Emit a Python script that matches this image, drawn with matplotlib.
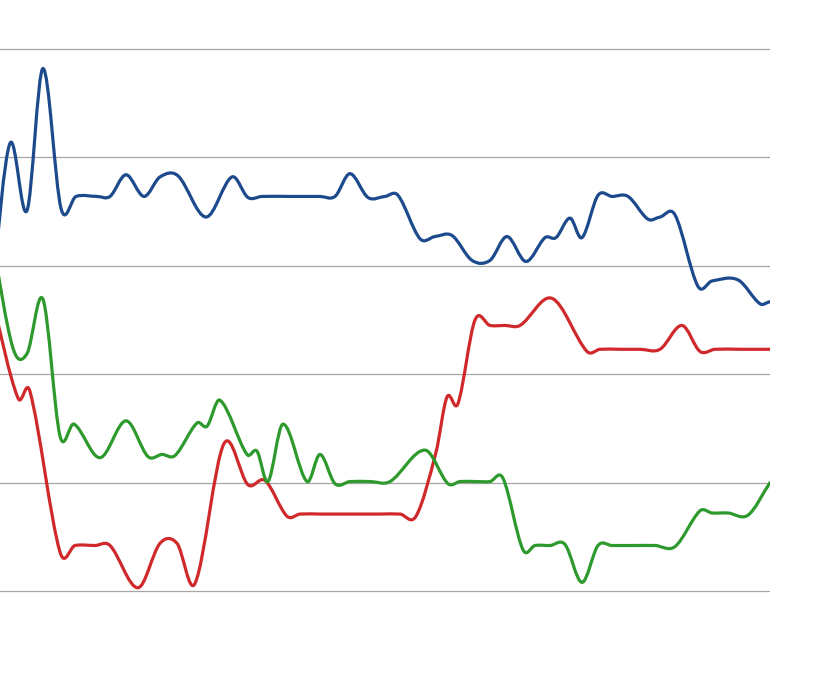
import matplotlib
matplotlib.use("Agg")
import matplotlib.pyplot as plt
import numpy as np
from matplotlib.path import Path
from matplotlib.patches import PathPatch

# 横轴位置（与图中像素位置对应的时间刻度）和三条线的读数（以网格为单位，0-5）
blue_t = [-8, 10, 27, 43, 61, 76, 97, 110, 126, 144, 160, 178, 206, 232, 248, 262,
          290, 320, 335, 350, 368, 385, 398, 420, 435, 452, 472, 490, 507, 526, 545,
          556, 570, 582, 598, 612, 628, 648, 660, 675, 698, 712, 738, 760, 770]
blue_v = [2.78, 4.13, 3.51, 4.82, 3.53, 3.64, 3.64, 3.64, 3.84, 3.64, 3.82, 3.83,
          3.45, 3.82, 3.63, 3.64, 3.64, 3.64, 3.64, 3.85, 3.63, 3.64, 3.65, 3.25,
          3.27, 3.28, 3.05, 3.05, 3.27, 3.04, 3.26, 3.26, 3.44, 3.26, 3.65, 3.64,
          3.64, 3.43, 3.45, 3.47, 2.81, 2.86, 2.87, 2.65, 2.67]

red_t = [-8, 18, 30, 60, 75, 95, 110, 138, 160, 177, 195, 224, 248, 265, 287, 300,
         320, 340, 360, 380, 400, 416, 436, 447, 458, 475, 490, 505, 520, 552, 587,
         600, 620, 640, 660, 682, 700, 715, 740, 770]
red_v = [2.69, 1.78, 1.84, 0.36, 0.42, 0.42, 0.42, 0.03, 0.44, 0.44, 0.07, 1.36,
         0.98, 1.02, 0.69, 0.71, 0.71, 0.71, 0.71, 0.71, 0.71, 0.69, 1.28, 1.79,
         1.73, 2.50, 2.45, 2.45, 2.45, 2.70, 2.21, 2.23, 2.23, 2.23, 2.23, 2.45,
         2.21, 2.23, 2.23, 2.23]

green_t = [-8, 13, 27, 43, 60, 74, 100, 126, 148, 162, 175, 197, 207, 220, 247, 257,
           268, 283, 307, 320, 335, 350, 370, 390, 425, 448, 460, 475, 490, 503, 523,
           535, 550, 565, 582, 598, 612, 635, 655, 675, 700, 712, 728, 748, 770]
green_v = [3.24, 2.24, 2.19, 2.69, 1.43, 1.54, 1.23, 1.57, 1.24, 1.26, 1.25, 1.55,
           1.52, 1.76, 1.26, 1.29, 1.01, 1.54, 1.01, 1.26, 0.99, 1.01, 1.01, 1.01,
           1.30, 0.99, 1.01, 1.01, 1.01, 1.04, 0.38, 0.42, 0.42, 0.43, 0.08, 0.42,
           0.42, 0.42, 0.42, 0.41, 0.74, 0.72, 0.72, 0.70, 1.00]

grid_levels = [0, 1, 2, 3, 4, 5]


def smooth_path(xs, ys):
    """平滑折线：三次 Hermite 曲线转成贝塞尔路径"""
    x = np.asarray(xs, dtype=float)
    y = np.asarray(ys, dtype=float)
    n = len(x)
    m = np.zeros(n)
    m[1:-1] = (y[2:] - y[:-2]) / (x[2:] - x[:-2])
    m[0] = (y[1] - y[0]) / (x[1] - x[0])
    m[-1] = (y[-1] - y[-2]) / (x[-1] - x[-2])
    verts = [(x[0], y[0])]
    codes = [Path.MOVETO]
    for i in range(n - 1):
        h = x[i + 1] - x[i]
        verts.append((x[i] + h / 3, y[i] + m[i] * h / 3))
        verts.append((x[i + 1] - h / 3, y[i + 1] - m[i + 1] * h / 3))
        verts.append((x[i + 1], y[i + 1]))
        codes += [Path.CURVE4] * 3
    return Path(verts, codes)


fig = plt.figure(figsize=(8.13, 6.77), dpi=100)
ax = fig.add_axes([0, 0, 770 / 813, 1])

for lv in grid_levels:
    ax.axhline(lv, color="#a6a6a6", linewidth=0.9, zorder=1)

for t, v, c in [(red_t, red_v, "#d0292b"),
                (green_t, green_v, "#2e9a2e"),
                (blue_t, blue_v, "#1c4a8c")]:
    patch = PathPatch(smooth_path(t, v), facecolor="none", edgecolor=c,
                      linewidth=2.3, capstyle="round", joinstyle="round", zorder=3)
    ax.add_patch(patch)

ax.set_xlim(0, 770)
ax.set_ylim(-0.793, 5.452)
ax.axis("off")

fig.savefig("out.png", dpi=100, facecolor="white")
